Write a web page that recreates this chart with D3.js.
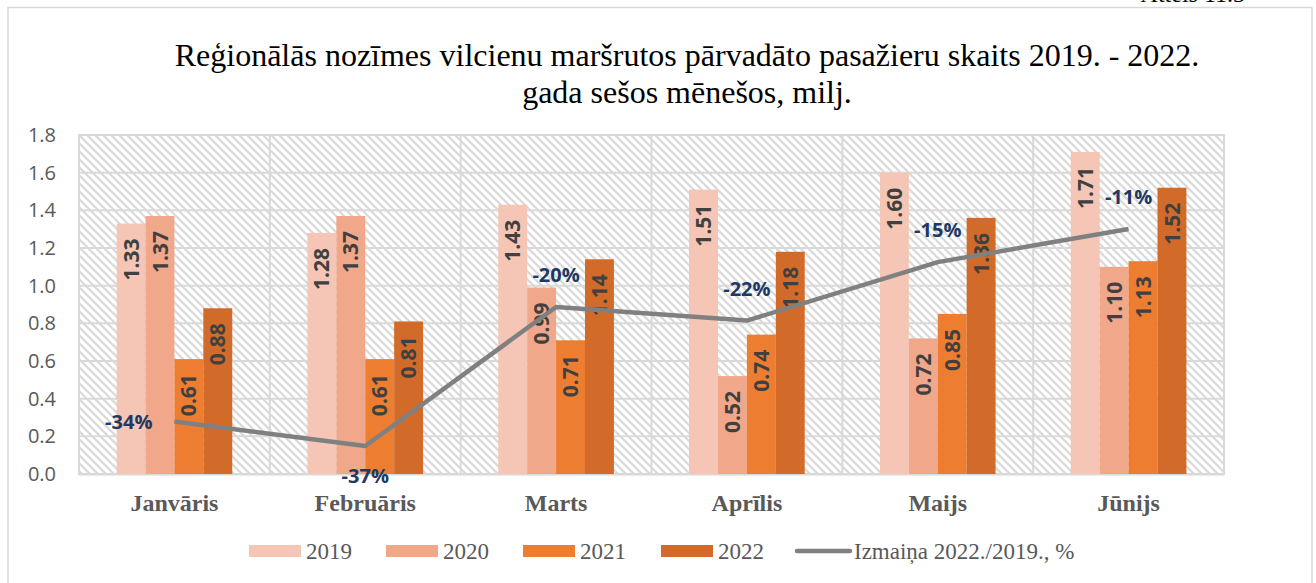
<!DOCTYPE html>
<html>
<head>
<meta charset="utf-8">
<script src="https://cdn.jsdelivr.net/npm/d3@7"></script>
<style>
  html, body { margin: 0; padding: 0; background: #fff; }
  svg { display: block; }
</style>
</head>
<body>
<svg id="chart" width="1316" height="583"></svg>
<script>
// ---- data ----
const months = ["Janvāris", "Februāris", "Marts", "Aprīlis", "Maijs", "Jūnijs"];
const seriesNames = ["2019", "2020", "2021", "2022"];
const v2019 = [1.33, 1.28, 1.43, 1.51, 1.60, 1.71];
const v2020 = [1.37, 1.37, 0.99, 0.52, 0.72, 1.10];
const v2021 = [0.61, 0.61, 0.71, 0.74, 0.85, 1.13];
const v2022 = [0.88, 0.81, 1.14, 1.18, 1.36, 1.52];
const change = [-0.338, -0.367, -0.203, -0.219, -0.150, -0.111];
const changeName = "Izmaiņa 2022./2019., %";
const yTicks = [0, 0.2, 0.4, 0.6, 0.8, 1.0, 1.2, 1.4, 1.6, 1.8];
const titleLines = ["Reģionālās nozīmes vilcienu maršrutos pārvadāto pasažieru skaits 2019. - 2022.",
                    "gada sešos mēnešos, milj."];

const seriesValues = [v2019, v2020, v2021, v2022];
const colors = ["#F5C6B5", "#F1A78A", "#ED7D31", "#D26B2A"];

const svg = d3.select("#chart");
const plot = {left: 79, right: 1224, top: 135, bottom: 474};

// outer frame
svg.append("rect").attr("x", 8).attr("y", 7.5).attr("width", 1304).attr("height", 600)
  .attr("fill", "#fff").attr("stroke", "#D9D9D9").attr("stroke-width", 1.5);

// cut-off header text at top right
svg.append("text").attr("x", 1245).attr("y", 2).attr("text-anchor", "end")
  .attr("font-family", "Liberation Serif, Times New Roman, serif").attr("font-size", 24)
  .attr("fill", "#000").text("Attēls 11.3");

// pattern
const defs = svg.append("defs");
const pat = defs.append("pattern").attr("id", "hatch").attr("patternUnits", "userSpaceOnUse")
  .attr("width", 8).attr("height", 8);
pat.append("rect").attr("width", 8).attr("height", 8).attr("fill", "#fff");
pat.append("path").attr("d", "M-2,-2 L10,10 M-2,6 L2,10 M6,-2 L10,2")
  .attr("stroke", "#D9D9D9").attr("stroke-width", 2.2);

// scales
const x0 = d3.scaleBand().domain(months).range([plot.left, plot.right]).paddingInner(0).paddingOuter(0);
const bw = x0.bandwidth();
const x1 = d3.scaleBand().domain(seriesNames).range([bw * 0.197, bw * 0.803]).padding(0);
const y = d3.scaleLinear().domain([0, 1.8]).range([plot.bottom, plot.top]);
const y2 = d3.scaleLinear().domain([-0.40, 0]).range([plot.bottom, plot.top]);

// plot background
svg.append("rect").attr("x", plot.left).attr("y", plot.top)
  .attr("width", plot.right - plot.left).attr("height", plot.bottom - plot.top)
  .attr("fill", "url(#hatch)");

// gridlines
const grid = svg.append("g");
grid.selectAll("line.h").data(yTicks).join("line").attr("class", "h")
  .attr("x1", plot.left).attr("x2", plot.right)
  .attr("y1", d => y(d)).attr("y2", d => y(d))
  .attr("stroke", "#D9D9D9").attr("stroke-width", 2);
grid.selectAll("line.v").data(months.slice(1)).join("line").attr("class", "v")
  .attr("x1", d => x0(d)).attr("x2", d => x0(d))
  .attr("y1", plot.top).attr("y2", plot.bottom)
  .attr("stroke", "#D9D9D9").attr("stroke-width", 2);
svg.append("rect").attr("x", plot.left).attr("y", plot.top)
  .attr("width", plot.right - plot.left).attr("height", plot.bottom - plot.top)
  .attr("fill", "none").attr("stroke", "#D9D9D9").attr("stroke-width", 2);

// y axis
const yAxis = d3.axisLeft(y).tickValues(yTicks).tickFormat(d3.format(".1f")).tickSize(0).tickPadding(23);
const ya = svg.append("g").attr("transform", `translate(${plot.left},0)`).call(yAxis);
ya.select(".domain").remove();
ya.attr("font-size", 20).attr("font-family", "Open Sans, sans-serif");
ya.selectAll("text").attr("font-family", "Open Sans, sans-serif").attr("font-size", 20)
  .attr("fill", "#595959");

// x axis
const xAxis = d3.axisBottom(x0).tickSize(0).tickPadding(20);
const xa = svg.append("g").attr("transform", `translate(0,${plot.bottom})`).call(xAxis);
xa.select(".domain").attr("stroke", "#D9D9D9").attr("stroke-width", 2);
xa.selectAll("text").attr("font-family", "Liberation Serif, Times New Roman, serif")
  .attr("font-size", 24).attr("font-weight", "bold").attr("fill", "#595959");

// bars
const groups = svg.append("g").selectAll("g").data(seriesNames).join("g")
  .attr("fill", (d, i) => colors[i]);
groups.selectAll("rect").data((s, si) => months.map((m, mi) => ({m, s, v: seriesValues[si][mi]})))
  .join("rect")
  .attr("x", d => x0(d.m) + x1(d.s))
  .attr("y", d => y(d.v))
  .attr("width", x1.bandwidth())
  .attr("height", d => y(0) - y(d.v));

// bar labels
const barLabels = svg.append("g");
seriesNames.forEach((s, si) => {
  months.forEach((m, mi) => {
    const v = seriesValues[si][mi];
    const cx = x0(m) + x1(s) + x1.bandwidth() / 2;
    barLabels.append("text")
      .attr("transform", `translate(${cx},${y(v) + 15}) rotate(-90)`)
      .attr("text-anchor", "end").attr("dy", "0.36em")
      .attr("font-family", "Open Sans, sans-serif").attr("font-size", 21).attr("font-weight", "bold")
      .attr("fill", "#404040").text(d3.format(".2f")(v));
  });
});

// line
const line = d3.line().x((d, i) => x0(months[i]) + bw / 2).y(d => y2(d));
svg.append("path").datum(change).attr("d", line)
  .attr("fill", "none").attr("stroke", "#808080").attr("stroke-width", 4.5)
  .attr("stroke-linejoin", "round");

// line labels
const pct = d3.formatLocale({decimal: ".", thousands: ",", grouping: [3], currency: ["", ""], minus: "-"}).format(".0%");
const placements = ["left", "below", "above", "above", "above", "above"];
change.forEach((c, i) => {
  const px = x0(months[i]) + bw / 2, py = y2(c);
  let tx = px, ty = py, anchor = "middle";
  if (placements[i] === "above") { ty = py - 32; }
  else if (placements[i] === "below") { ty = py + 30; }
  else { tx = px - 22; anchor = "end"; }
  svg.append("text").attr("x", tx).attr("y", ty).attr("dy", "0.36em")
    .attr("text-anchor", anchor)
    .attr("font-family", "Open Sans, sans-serif").attr("font-size", 20).attr("font-weight", "bold")
    .attr("fill", "#203864").text(pct(c));
});

// title
svg.append("text").attr("x", 687).attr("y", 66).attr("text-anchor", "middle")
  .attr("font-family", "Liberation Serif, Times New Roman, serif").attr("font-size", 32)
  .attr("fill", "#000")
  .selectAll("tspan").data(titleLines).join("tspan")
  .attr("x", 687).attr("dy", (d, i) => i === 0 ? 0 : 37).text(d => d);

// legend
const legendItems = [
  {name: seriesNames[0], type: "rect", color: colors[0], x: 249},
  {name: seriesNames[1], type: "rect", color: colors[1], x: 386},
  {name: seriesNames[2], type: "rect", color: colors[2], x: 523},
  {name: seriesNames[3], type: "rect", color: colors[3], x: 661},
  {name: changeName, type: "line", color: "#808080", x: 797}
];
const lg = svg.append("g");
legendItems.forEach(it => {
  if (it.type === "rect") {
    lg.append("rect").attr("x", it.x).attr("y", 545).attr("width", 52).attr("height", 12).attr("fill", it.color);
  } else {
    lg.append("line").attr("x1", it.x).attr("x2", it.x + 53).attr("y1", 551).attr("y2", 551)
      .attr("stroke", it.color).attr("stroke-width", 4.5).attr("stroke-linecap", "round");
  }
  lg.append("text").attr("x", it.x + 57).attr("y", 559)
    .attr("font-family", "Liberation Serif, Times New Roman, serif").attr("font-size", 23)
    .attr("fill", "#595959").text(it.name);
});
</script>
</body>
</html>
